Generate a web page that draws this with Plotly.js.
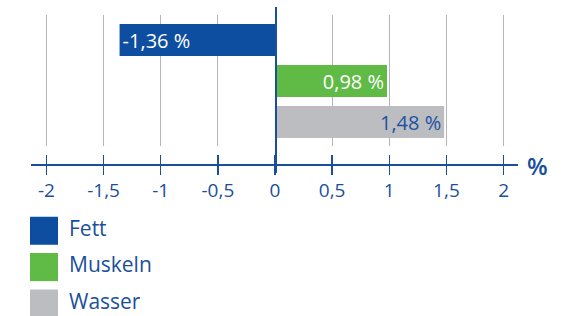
<!DOCTYPE html>
<html><head><meta charset="utf-8">
<script src="https://cdn.plot.ly/plotly-3.0.1.min.js"></script>
<style>html,body{margin:0;padding:0;background:#fff;}#chart{width:565px;height:316px;}</style>
</head><body><div id="chart"></div>
<script>
// ---- data ----
const categories = ['Fett', 'Muskeln', 'Wasser'];
const values = [-1.36, 0.98, 1.48];
const barColors = ['#0d4ea1', '#5fba46', '#bcbdc1'];
const textColors = ['#ffffff', '#ffffff', '#1a52a3'];
const tickVals = [-2, -1.5, -1, -0.5, 0, 0.5, 1, 1.5, 2];
const tickText = ['-2', '-1,5', '-1', '-0,5', '0', '0,5', '1', '1,5', '2'];
const unitLabel = '%';

// ---- layout helpers ----
const W = 565, H = 316;
const px = x => x / W;
const py = y => 1 - y / H;
const xRange = [-2.135, 2.126];
const xDomain = [px(31), px(518)];
const zeroPos = xDomain[0] + (0 - xRange[0]) / (xRange[1] - xRange[0]) * (xDomain[1] - xDomain[0]);
const blue = '#1a4f9c';
const fam = 'Open Sans, Noto Sans, sans-serif';
const axisY = py(164);

const labels = values.map(v => v.toFixed(2).replace('.', ',') + ' %');

const traces = [
  {
    type: 'bar', orientation: 'h', y: categories, x: values,
    marker: {color: barColors, line: {width: 0}},
    text: labels, textposition: 'inside', insidetextanchor: 'end', constraintext: 'none',
    textfont: {color: textColors, size: 20, family: fam},
    width: 0.78, hoverinfo: 'skip', xaxis: 'x', yaxis: 'y'
  },
  {type: 'scatter', x: [], y: [], xaxis: 'x2', yaxis: 'y2', hoverinfo: 'skip'},
  {type: 'scatter', x: [], y: [], xaxis: 'x3', yaxis: 'y', hoverinfo: 'skip'},
  {type: 'scatter', x: [], y: [], xaxis: 'x4', yaxis: 'y', hoverinfo: 'skip'},
  {
    type: 'scatter', mode: 'markers', x: categories.map(() => 44), y: categories,
    marker: {symbol: 'square', size: 28, color: barColors, line: {width: 0}},
    xaxis: 'x5', yaxis: 'y5', hoverinfo: 'skip'
  },
  {
    type: 'scatter', mode: 'text', x: categories.map(() => 69), y: categories,
    text: categories, textposition: 'middle right',
    textfont: {size: 21, color: blue, family: fam},
    xaxis: 'x5', yaxis: 'y5', hoverinfo: 'skip'
  }
];

const layout = {
  width: W, height: H, margin: {l: 0, r: 0, t: 0, b: 0},
  paper_bgcolor: '#ffffff', plot_bgcolor: 'rgba(0,0,0,0)',
  showlegend: false, barmode: 'overlay',
  font: {family: fam, color: blue},
  xaxis: {domain: xDomain, range: xRange, tickvals: tickVals, showticklabels: false, ticks: '',
          showgrid: true, gridcolor: '#b5b5b5', gridwidth: 1, zeroline: false, showline: false},
  yaxis: {domain: [py(146), py(15)], type: 'category', range: [2.585, -0.61],
          showgrid: false, showticklabels: false, ticks: '', zeroline: false, showline: false},
  xaxis2: {domain: xDomain, range: xRange, visible: false, anchor: 'y2'},
  yaxis2: {domain: [py(173), py(7)], anchor: 'free', position: zeroPos, range: [0, 1],
           showline: true, linecolor: blue, linewidth: 1.5, showgrid: false, zeroline: false,
           showticklabels: false, ticks: ''},
  xaxis3: {overlaying: 'x', anchor: 'free', position: axisY, side: 'bottom', range: xRange,
           tickvals: tickVals, ticktext: tickText, ticks: 'outside', ticklen: 9, tickwidth: 1.5,
           tickcolor: blue, showline: true, linecolor: blue, linewidth: 1.5, showgrid: false,
           zeroline: false, tickfont: {size: 19, color: blue, family: fam}},
  xaxis4: {overlaying: 'x', anchor: 'free', position: axisY, side: 'bottom', range: xRange,
           tickvals: tickVals, ticks: 'inside', ticklen: 9, tickwidth: 1.5, tickcolor: blue,
           showticklabels: false, showline: false, showgrid: false, zeroline: false},
  xaxis5: {domain: [0, 0.5], range: [0, 282.5], visible: false, anchor: 'y5'},
  yaxis5: {domain: [0, py(212)], type: 'category', range: [2.343, -0.514], visible: false, anchor: 'x5'},
  annotations: [{
    xref: 'paper', yref: 'paper', x: px(537), y: py(165), text: unitLabel, showarrow: false,
    xanchor: 'center', yanchor: 'middle', font: {size: 24, color: blue, family: fam, weight: 600}
  }]
};

Plotly.newPlot('chart', traces, layout, {staticPlot: true, displayModeBar: false});
</script></body></html>
